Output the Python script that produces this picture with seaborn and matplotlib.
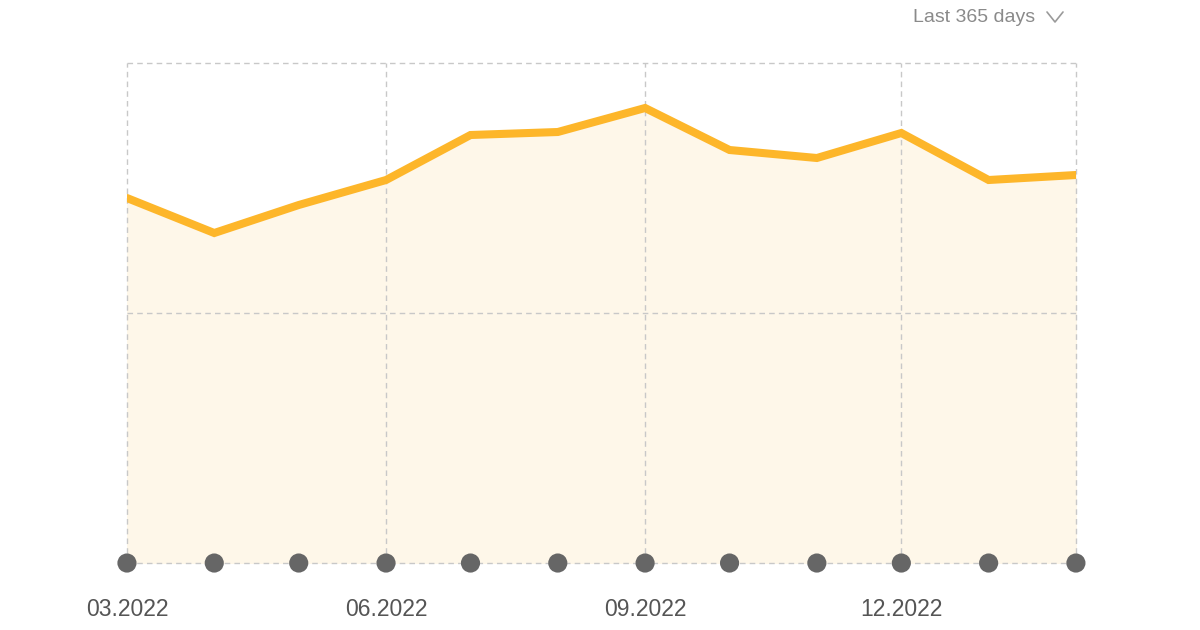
import pandas as pd
import matplotlib.pyplot as plt
from matplotlib.lines import Line2D
import seaborn as sns

sns.set_style('white')
plt.rcParams['font.family'] = ['Liberation Sans', 'DejaVu Sans']

months = ['2022-03-01', '2022-04-01', '2022-05-01', '2022-06-01', '2022-07-01', '2022-08-01',
          '2022-09-01', '2022-10-01', '2022-11-01', '2022-12-01', '2023-01-01', '2023-02-01']
values = [73.0, 66.0, 71.6, 76.6, 85.6, 86.2, 91.0, 82.6, 81.0, 86.0, 76.6, 77.6]
tick_months = ['2022-03-01', '2022-06-01', '2022-09-01', '2022-12-01', '2023-02-01']
tick_labels = ['03.2022', '06.2022', '09.2022', '12.2022', '']
y_ticks = [0, 50, 100]

df = pd.DataFrame({'month': pd.to_datetime(months), 'value': values})

fig = plt.figure(figsize=(12, 6.3), dpi=100)
ax = fig.add_axes([0.1058, 0.1063, 0.7908, 0.7937])

line_color = '#FDB62A'
ax.fill_between(df['month'], df['value'], 0, color='#FEF7E9', zorder=1)
sns.lineplot(data=df, x='month', y='value', ax=ax, color=line_color, linewidth=5.8,
             solid_joinstyle='miter', zorder=3)
sns.scatterplot(data=df.assign(base=0), x='month', y='base', ax=ax, color='#666666',
                s=190, edgecolor='none', zorder=4, clip_on=False)

ax.set_xlim(df['month'].iloc[0], df['month'].iloc[-1])
ax.set_ylim(0, 100)
ax.set_xticks(pd.to_datetime(tick_months))
ax.set_xticklabels(tick_labels)
ax.set_yticks(y_ticks)
ax.set_yticklabels([])
ax.set_axisbelow(False)
ax.grid(True, color='#C8C8C8', linestyle=(0, (4, 3)), linewidth=1.0)
for gl in ax.get_xgridlines() + ax.get_ygridlines():
    gl.set_clip_on(False)
    gl.set_zorder(2)
for s in ax.spines.values():
    s.set_visible(False)
ax.tick_params(axis='x', length=0, pad=25, labelsize=16.5, labelcolor='#555555')
ax.tick_params(axis='y', length=0)
ax.set_xlabel('')
ax.set_ylabel('')

fig.text(0.8625, 0.972, 'Last 365 days', fontsize=14, color='#8A8A8A', ha='right', va='center')
fig.add_artist(Line2D([1047 / 1200, 1055 / 1200, 1063 / 1200],
                      [1 - 12 / 630, 1 - 22 / 630, 1 - 12 / 630],
                      color='#9A9A9A', linewidth=1.2, transform=fig.transFigure))

fig.savefig('out.png', dpi=100, facecolor='white')
